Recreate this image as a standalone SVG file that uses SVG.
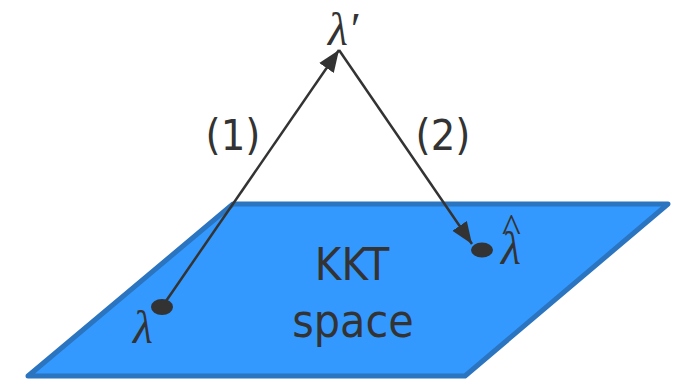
<svg xmlns="http://www.w3.org/2000/svg" width="682" height="381" viewBox="0 0 682 381">
<style>
.lbl{font-family:"DejaVu Sans Condensed","DejaVu Sans",sans-serif;fill:#333;}
.math{font-family:"Liberation Serif","DejaVu Serif",serif;font-style:italic;fill:#333;}
.edge{stroke:#333;stroke-width:2.5;fill:none;}
.dot{fill:#333;}
</style>
<defs>
<marker id="arrH" viewBox="0 0 10 10" refX="10" refY="5" markerWidth="22" markerHeight="22" markerUnits="userSpaceOnUse" orient="auto">
<path d="M0,1 L10,5 L0,9 z" fill="#333"/>
</marker>
</defs>
<g id="kkt-space">
<polygon points="233,204 668,204 465,376 28,376" fill="#3399FF" stroke="#2B74C0" stroke-width="5" stroke-linejoin="round"/>
<text class="lbl" x="352" y="280" font-size="45" text-anchor="middle">KKT</text>
<text class="lbl" x="353" y="337" font-size="46" text-anchor="middle">space</text>
</g>
<g id="connectors">
<line id="e1" class="edge" x1="164" y1="304" x2="339" y2="50" marker-end="url(#arrH)"/>
<line id="e2" class="edge" x1="339" y1="50" x2="472" y2="244" marker-end="url(#arrH)"/>
<text class="lbl" x="233" y="150" font-size="43" text-anchor="middle">(1)</text>
<text class="lbl" x="443" y="150" font-size="43" text-anchor="middle">(2)</text>
</g>
<g id="lambda-prime">
<text class="math" x="343" y="45" font-size="46" text-anchor="middle">λ′</text>
</g>
<g id="lambda">
<ellipse class="dot" cx="162" cy="307" rx="11" ry="8"/>
<text class="math" x="143" y="343" font-size="46" text-anchor="middle">λ</text>
</g>
<g id="lambda-hat">
<ellipse class="dot" cx="482" cy="250" rx="11" ry="7.5"/>
<text class="math" x="501" y="264" font-size="46">λ<tspan dx="-19" dy="-22" font-size="40" font-style="normal">^</tspan></text>
</g>
</svg>
